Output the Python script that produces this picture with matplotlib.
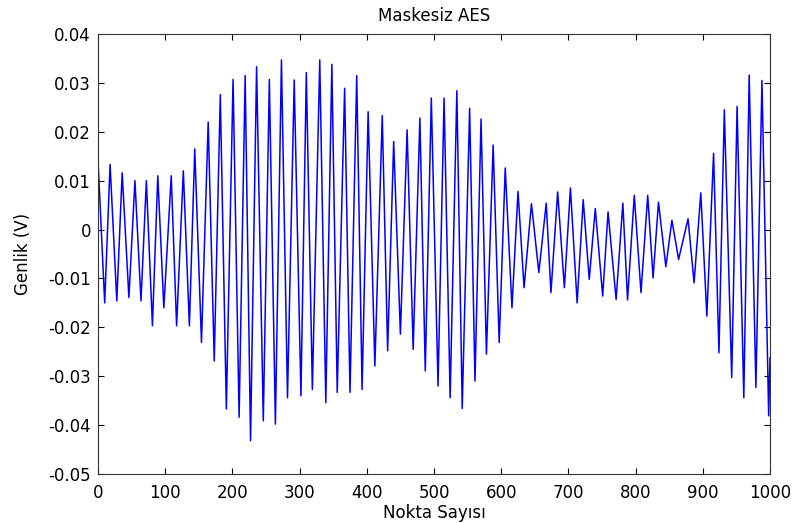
import matplotlib.pyplot as plt

# turning points of the waveform (sample index, amplitude in V)
nokta = [0, 10, 18, 28, 36, 46, 55, 64, 72, 81, 89, 98, 109, 117, 127, 136, 144, 154,
         164, 173, 182, 191, 201, 210, 219, 227, 236, 246, 255, 264, 273, 282, 292, 302,
         310, 319, 330, 339, 348, 356, 367, 375, 385, 393, 402, 412, 423, 431, 440, 450,
         460, 469, 479, 487, 496, 506, 515, 524, 534, 542, 553, 561, 570, 578, 588, 597,
         606, 616, 625, 634, 645, 656, 667, 674, 684, 694, 703, 713, 722, 731, 740, 751,
         759, 771, 781, 788, 798, 808, 818, 826, 834, 845, 854, 864, 878, 887, 897, 906,
         916, 924, 932, 943, 951, 961, 969, 979, 988, 998, 1000]
genlik = [0.0143, -0.0150, 0.0133, -0.0146, 0.0116, -0.0139, 0.0100, -0.0146, 0.0100,
          -0.0197, 0.0110, -0.0160, 0.0110, -0.0197, 0.0120, -0.0197, 0.0165, -0.0231,
          0.0220, -0.0269, 0.0276, -0.0367, 0.0307, -0.0384, 0.0315, -0.0432, 0.0333,
          -0.0391, 0.0307, -0.0398, 0.0347, -0.0344, 0.0306, -0.0340, 0.0321, -0.0327,
          0.0347, -0.0354, 0.0338, -0.0333, 0.0289, -0.0333, 0.0315, -0.0327, 0.0241,
          -0.0279, 0.0233, -0.0248, 0.0180, -0.0214, 0.0204, -0.0245, 0.0228, -0.0289,
          0.0269, -0.0320, 0.0269, -0.0344, 0.0284, -0.0366, 0.0248, -0.0310, 0.0226,
          -0.0255, 0.0173, -0.0231, 0.0126, -0.0160, 0.0078, -0.0119, 0.0053, -0.0088,
          0.0054, -0.0129, 0.0077, -0.0119, 0.0085, -0.0150, 0.0061, -0.0102, 0.0043,
          -0.0136, 0.0036, -0.0143, 0.0054, -0.0144, 0.0070, -0.0129, 0.0070, -0.0099,
          0.0056, -0.0076, 0.0019, -0.0061, 0.0022, -0.0109, 0.0075, -0.0177, 0.0156,
          -0.0252, 0.0245, -0.0303, 0.0252, -0.0344, 0.0316, -0.0323, 0.0305, -0.0381,
          -0.0262]

x_ticks = [0, 100, 200, 300, 400, 500, 600, 700, 800, 900, 1000]
y_ticks = [0.04, 0.03, 0.02, 0.01, 0, -0.01, -0.02, -0.03, -0.04, -0.05]
y_labels = ['0.04', '0.03', '0.02', '0.01', '0', '-0.01', '-0.02', '-0.03', '-0.04', '-0.05']

plt.rcParams['font.family'] = ['DejaVu Sans']
plt.rcParams['font.size'] = 12

fig = plt.figure(figsize=(7.94, 5.23), dpi=100)
ax = fig.add_axes([0.1234, 0.0937, 0.8464, 0.8413])
ax.plot(nokta, genlik, color='#0000ff', linewidth=1.1)

ax.set_xlim(0, 1000)
ax.set_ylim(-0.05, 0.04)
ax.set_xticks(x_ticks)
ax.set_yticks(y_ticks)
ax.set_yticklabels(y_labels)
ax.tick_params(direction='in', top=True, right=True, length=4, width=0.8, labelsize=12)
ax.tick_params(axis='x', pad=7)
ax.tick_params(axis='y', pad=5)
for s in ax.spines.values():
    s.set_linewidth(0.8)
    s.set_color('#333333')

ax.set_title('Maskesiz AES', fontsize=12, pad=9)
ax.set_xlabel('Nokta Sayısı', fontsize=12, labelpad=2)
ax.set_ylabel('Genlik (V)', fontsize=12, labelpad=12)

fig.savefig('out.png', dpi=100)
